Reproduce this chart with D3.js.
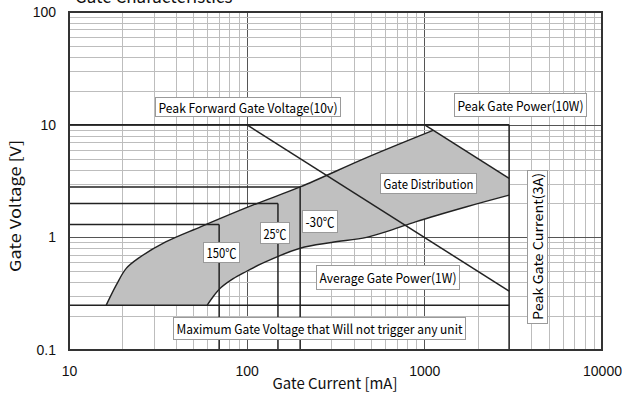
<!DOCTYPE html>
<html>
<head>
<meta charset="utf-8">
<script src="https://cdn.jsdelivr.net/npm/d3@7"></script>
<style>
  body { margin: 0; background: #fff; }
</style>
</head>
<body>
<div id="chart"></div>
<script>

/* Data (current in mA, voltage in V) */
var xTicks = [10, 100, 1000, 10000],
    yTicks = [0.1, 1, 10, 100];

// gate distribution boundaries
var upperCurve = [[16.2, 0.25], [18.5, 0.38], [21, 0.53], [24.5, 0.65], [35, 0.91], [55, 1.24],
                  [109, 1.94], [200, 2.8], [473, 5.1], [1120, 8.9]];
var lowerCurve = [[60, 0.25], [65, 0.30], [72, 0.36], [84, 0.43], [100, 0.5], [123, 0.59],
                  [200, 0.8], [300, 0.9], [473, 1.0], [650, 1.16], [900, 1.38], [1730, 1.87], [3000, 2.37]];

// temperature gate trigger points
var tempLabels  = ["150℃", "25℃", "-30℃"],
    tempCurrent = [70, 150, 200],
    tempVoltage = [1.3, 2.0, 2.8];

// rating limits
var peakForwardVoltage = 10,
    peakCurrent = 3000,
    noTriggerVoltage = 0.25,
    peakPowerLine = [[1000, 10], [3000, 3.33]],
    avgPowerLine  = [[100, 10], [3000, 0.333]];

var labelText = ["Peak Forward Gate Voltage(10v)", "Peak Gate Power(10W)", "Gate Distribution",
                 "Average Gate Power(1W)", "Maximum Gate Voltage that Will not trigger any unit",
                 "Peak Gate Current(3A)"];

/* Layout */
var W = 622, H = 400,
    margin = { top: 12, left: 69, right: 20, bottom: 50 },
    x0 = margin.left, x1 = W - margin.right,
    y0 = margin.top,  y1 = H - margin.bottom;

var jpFont = "'Noto Sans CJK JP', 'DejaVu Sans', sans-serif",
    numFont = "'Liberation Sans', Arial, sans-serif";

var x = d3.scaleLog().domain([10, 10000]).range([x0, x1]),
    y = d3.scaleLog().domain([0.1, 100]).range([y1, y0]);

var svg = d3.select("#chart").append("svg")
    .attr("width", W)
    .attr("height", H);

/* Grid */
var grid = svg.append("g");
var xGrid = [], yGrid = [];
[10, 100, 1000].forEach(function(d) { for (var k = 1; k < 10; k++) xGrid.push(d * k); });
[0.1, 1, 10].forEach(function(d) { for (var k = 1; k < 10; k++) yGrid.push(d * k); });

grid.selectAll("line.gx")
    .data(xGrid)
    .enter().append("line")
    .attr("x1", function(d) { return Math.round(x(d)) + 0.5; })
    .attr("x2", function(d) { return Math.round(x(d)) + 0.5; })
    .attr("y1", y0).attr("y2", y1)
    .attr("stroke", function(d) { return xTicks.indexOf(d) >= 0 ? "#555" : "#bdbdbd"; })
    .attr("stroke-width", 1);

grid.selectAll("line.gy")
    .data(yGrid)
    .enter().append("line")
    .attr("y1", function(d) { return Math.round(y(d)) + 0.5; })
    .attr("y2", function(d) { return Math.round(y(d)) + 0.5; })
    .attr("x1", x0).attr("x2", x1)
    .attr("stroke", function(d) { return yTicks.indexOf(+d.toPrecision(3)) >= 0 ? "#555" : "#bdbdbd"; })
    .attr("stroke-width", 1);

/* Gate distribution region */
var line = d3.line()
    .x(function(d) { return x(d[0]); })
    .y(function(d) { return y(d[1]); })
    .curve(d3.curveCatmullRom.alpha(0.5));

var lowerRev = lowerCurve.slice().reverse();
var regionPath = line(upperCurve) +
    "L" + x(peakPowerLine[1][0]) + "," + y(peakPowerLine[1][1]) +
    "L" + line(lowerRev).slice(1) + "Z";

svg.append("path")
    .attr("d", regionPath)
    .attr("fill", "#c0c0c0")
    .attr("stroke", "none");

var ink = "#222";

svg.append("path").attr("d", line(upperCurve)).attr("fill", "none").attr("stroke", ink).attr("stroke-width", 1.4);
svg.append("path").attr("d", line(lowerCurve)).attr("fill", "none").attr("stroke", ink).attr("stroke-width", 1.4);

/* Rating lines */
var straight = d3.line().x(function(d) { return x(d[0]); }).y(function(d) { return y(d[1]); });

function hline(v, c) {
    svg.append("line")
        .attr("x1", x0).attr("x2", x(c))
        .attr("y1", y(v)).attr("y2", y(v))
        .attr("stroke", ink).attr("stroke-width", 1.5);
}
function vline(c, v) {
    svg.append("line")
        .attr("x1", x(c)).attr("x2", x(c))
        .attr("y1", y(v)).attr("y2", y1)
        .attr("stroke", ink).attr("stroke-width", 1.5);
}

hline(peakForwardVoltage, peakCurrent);
vline(peakCurrent, peakForwardVoltage);
hline(noTriggerVoltage, peakCurrent);

tempCurrent.forEach(function(c, i) {
    hline(tempVoltage[i], c);
    vline(c, tempVoltage[i]);
});

svg.append("path").attr("d", straight(peakPowerLine)).attr("fill", "none").attr("stroke", ink).attr("stroke-width", 1.5);
svg.append("path").attr("d", straight(avgPowerLine)).attr("fill", "none").attr("stroke", ink).attr("stroke-width", 1.5);

/* Label boxes  [x, y, w, h] */
function box(txt, bx, by, bw, bh, fs, vertical) {
    var g = svg.append("g");
    g.append("rect")
        .attr("x", bx + 0.5).attr("y", by + 0.5)
        .attr("width", bw).attr("height", bh)
        .attr("fill", "#fff")
        .attr("stroke", "#9a9a9a")
        .attr("stroke-width", 1);
    var t = g.append("text")
        .attr("font-family", jpFont)
        .attr("font-size", fs)
        .attr("fill", "#000")
        .attr("text-anchor", "middle")
        .attr("dominant-baseline", "central")
        .attr("lengthAdjust", "spacingAndGlyphs")
        .text(txt);
    if (vertical) {
        t.attr("transform", "translate(" + (bx + bw / 2 + 0.5) + "," + (by + bh / 2) + ") rotate(-90)")
         .attr("textLength", bh - 6);
    } else {
        t.attr("x", bx + bw / 2 + 0.5).attr("y", by + bh / 2 + 0.5)
         .attr("textLength", bw - 6);
    }
}

box(labelText[0], 155, 97, 185, 19, 13);
box(labelText[1], 454, 93, 132, 23, 13);
box(labelText[2], 380, 173, 96, 20, 13);
box(labelText[3], 316, 265, 143, 24, 13);
box(labelText[4], 173, 317, 292, 22, 13);
box(labelText[5], 527, 170, 20, 153, 13, true);

box(tempLabels[0], 203, 242, 36, 20, 13);
box(tempLabels[1], 260, 222, 29, 21, 13);
box(tempLabels[2], 302, 210, 35, 22, 13);

/* Border */
svg.append("rect")
    .attr("x", x0).attr("y", y0)
    .attr("width", x1 - x0).attr("height", y1 - y0)
    .attr("fill", "none")
    .attr("stroke", "#333")
    .attr("stroke-width", 2);

/* Axes */
var yAxis = d3.axisLeft(y).tickValues(yTicks).tickSize(0).tickPadding(13)
    .tickFormat(function(d) { return d3.format("~g")(d); });
var xAxis = d3.axisBottom(x).tickValues(xTicks).tickSize(0).tickPadding(16)
    .tickFormat(function(d) { return d3.format("~g")(d); });

var gy = svg.append("g").attr("transform", "translate(" + x0 + ",0)").call(yAxis);
var gx = svg.append("g").attr("transform", "translate(0," + y1 + ")").call(xAxis);
[gx, gy].forEach(function(g) {
    g.select(".domain").remove();
    g.selectAll("text").attr("font-family", numFont).attr("font-size", 14).attr("fill", "#111");
});

/* Titles */
svg.append("text")
    .attr("x", 335).attr("y", 389)
    .attr("text-anchor", "middle")
    .attr("font-family", jpFont)
    .attr("font-size", 15)
    .attr("fill", "#111")
    .attr("textLength", 125)
    .attr("lengthAdjust", "spacingAndGlyphs")
    .text("Gate Current [mA]");

svg.append("text")
    .attr("transform", "translate(21,206) rotate(-90)")
    .attr("text-anchor", "middle")
    .attr("font-family", jpFont)
    .attr("font-size", 15)
    .attr("fill", "#111")
    .attr("textLength", 132)
    .attr("lengthAdjust", "spacingAndGlyphs")
    .text("Gate Voltage [V]");

svg.append("text")
    .attr("x", 75).attr("y", 2.5)
    .attr("font-family", jpFont)
    .attr("font-size", 17)
    .attr("fill", "#111")
    .text("Gate Characteristics");

</script>
</body>
</html>
